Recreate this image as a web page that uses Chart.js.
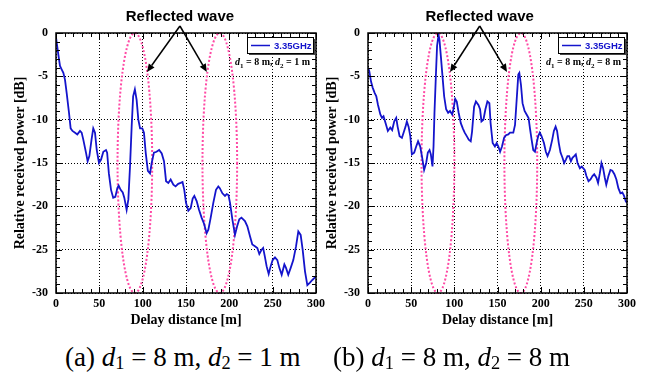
<!DOCTYPE html>
<html>
<head>
<meta charset="utf-8">
<script src="https://cdn.jsdelivr.net/npm/chart.js@4.4.0/dist/chart.umd.min.js"></script>
<style>
  body { margin: 0; background: #fff; width: 646px; height: 378px; position: relative; overflow: hidden; font-family: "Liberation Serif", serif; }
  canvas { position: absolute; top: 0; }
  #chartA { left: 0; }
  #chartB { left: 310px; }
  .cap { position: absolute; top: 342px; font-size: 27px; line-height: 30px; white-space: nowrap; color: #000; }
  .cap sub { font-size: 0.68em; vertical-align: -0.18em; line-height: 0; }
</style>
</head>
<body>
<canvas id="chartA" width="340" height="335"></canvas>
<canvas id="chartB" width="336" height="335"></canvas>
<div class="cap" style="left:65px">(a) <i>d</i><sub>1</sub> = 8 m, <i>d</i><sub>2</sub> = 1 m</div>
<div class="cap" style="left:333px">(b) <i>d</i><sub>1</sub> = 8 m, <i>d</i><sub>2</sub> = 8 m</div>
<script>
// tick labels
const xTickVals = [0, 50, 100, 150, 200, 250, 300];
const yTickVals = [0, -5, -10, -15, -20, -25, -30];
const seriesLabel = '3.35GHz';

// (a) d1 = 8 m, d2 = 1 m : delay distance [m] / relative power [dB]
const xA = [0,2.7,4.6,6.5,8.5,10.4,12.3,15,16.9,19,
  22,24.6,27.7,29.6,31.5,34.6,36.5,38.5,41,43,
  45,47,49.6,52,54.6,57.7,59,61,63.5,66,
  68.5,70.8,72.3,74.6,77,78.8,81.5,83.5,85.4,87.3,
  89,91,93,95,97,99.6,101.5,103.5,106,108.5,
  110.4,113,116,119,122,124.6,127,129.6,132.3,135.4,
  138,141,143.8,146,148,150,152.7,155.4,157.7,159.6,
  162.3,165,168,170.8,173.8,175.8,178.5,181.5,184.6,187.3,
  189,192,195,197,199,200.8,203.5,206.5,209,211.5,
  214,218,220.8,224,226.5,229.6,232.3,234.6,237.3,239,
  241,243,245.4,247.7,250,252.7,255.4,257.7,260.4,263.5,
  265.4,268,270.8,273.8,277,279.6,282.3,284.6,287.3,290,
  293,295.8,298.8,300];
const yA = [-0.5,-2.5,-3.8,-4.2,-4.6,-5.4,-6.9,-9.2,-11,-11.3,
  -11.5,-11.7,-11.3,-11.5,-12.3,-13.8,-14.8,-14.2,-12.3,-11,
  -11.5,-13.5,-15,-14.6,-13.7,-13.5,-13.8,-16.2,-18.1,-19,
  -18.9,-17.9,-17.6,-18.1,-18.4,-19,-20.4,-19.2,-15.4,-10.8,
  -7.3,-6.5,-7.7,-10,-11,-11,-11.5,-13.8,-15.9,-16.2,
  -15,-13.8,-13.7,-13.5,-13.9,-14.8,-17.1,-17.3,-16.9,-17.5,
  -17.7,-17.4,-17.3,-17.2,-18.1,-19.6,-20.5,-20.2,-19.1,-18.8,
  -19.4,-20.4,-21.3,-22,-23.1,-22.7,-21.3,-19.6,-18.1,-17.7,
  -17.9,-18.5,-18.8,-18.6,-18.7,-19.6,-21.5,-23.3,-22.3,-21.5,
  -21.3,-21.7,-22.3,-23.5,-24.4,-24.6,-24.8,-25.5,-25,-24.8,
  -25.8,-26.9,-27.8,-26.9,-26.2,-25.9,-26.2,-27.1,-27.9,-26.7,
  -27.1,-27.9,-27.1,-26.2,-24.6,-22.9,-23.3,-25,-27.5,-29.1,
  -28.8,-28.5,-28.2,-28.1];

// (b) d1 = 8 m, d2 = 8 m
const xB = [0,1.5,3.5,5.4,7.7,9.6,11.6,14.3,16.2,18,
  20.4,23,25.8,28,30.4,32.7,34.3,36.6,39.3,41.2,
  43.5,45,47,49,50.8,53.5,55.8,58,60.5,62.8,
  65,67.4,69.3,71.3,72.8,74.7,75.9,77,78.6,80,
  81.7,82.8,84.4,86.3,88.2,90.5,92.8,95,97.5,99,
  101,102.8,105,107.5,109.8,112,114.4,116.7,119,120.5,
  122.9,125,127.9,129.8,131.4,133.7,136,138.3,140.6,142,
  144.4,147,149,151,153,155.2,157.6,159.8,162.5,164.5,
  166.8,168.3,170.3,172.2,174.1,175.3,177.2,179,181.4,183.7,
  186,187.6,189.5,191.4,193.4,195.3,197.2,199,201,203.8,
  206,208,210.7,213.4,215.3,217.3,219,221,223,225.3,
  227.2,229.2,231,233,235,236.8,238.8,240.7,242.7,245.4,
  247.7,249.2,251,253,255.4,257.7,260,262,264.6,266.5,
  268.5,270.4,272.3,274.3,276,278.5,280.8,283,285.4,287.7,
  290,292.4,294.6,296.6,298.5,300];
const yB = [-4,-4.4,-5.6,-6.3,-6.9,-7.3,-8.3,-9.4,-9.8,-9.6,
  -10.4,-11.3,-10.9,-11.2,-10.2,-9.8,-10.8,-11.9,-12.1,-11.5,
  -10.8,-10.2,-10.8,-11.9,-14,-13.8,-13.1,-12.5,-13.1,-14.4,
  -15.8,-15,-13.8,-13.5,-14,-15.4,-13.1,-9.2,-5,-1.5,
  -0.2,-0.8,-2.7,-5,-7.3,-8.8,-9.2,-9,-9.4,-8.8,
  -7.6,-7.9,-9.2,-10.4,-11,-11.5,-11.9,-12.3,-12.5,-11.4,
  -8.5,-7.9,-8.3,-8.8,-10.2,-10,-8.8,-7.9,-8.1,-10.4,
  -12.7,-13.1,-12.7,-13.1,-13.7,-13.1,-12.1,-11.8,-11.7,-11.5,
  -11.5,-11.5,-10.6,-7.7,-4.8,-4.6,-6,-8.1,-9,-9.4,
  -9.8,-11,-12.3,-13.5,-13.7,-12.7,-11.9,-11.5,-11.9,-12.7,
  -13.7,-14.2,-13.5,-12.3,-11.3,-10.8,-11.3,-12.7,-13.8,-14.4,
  -15,-14.6,-14.2,-14.2,-14.8,-14.4,-14.2,-14,-15,-15.6,
  -15.4,-15.6,-15.8,-16.5,-17.1,-16.9,-16.5,-16.3,-16.7,-17.3,
  -16.2,-15,-15.6,-16.7,-17.5,-16.5,-15.8,-15.9,-16.3,-16.9,
  -17.9,-18.5,-18.4,-18.8,-19.4,-19.6];

// circled reflections: [centre, half width] in metres
const ringsA = [[91, 20], [189, 20]];
const ringsB = [[81, 19], [177, 19]];
// arrow tips [m, dB]
const tipsA = [[105, -4.5], [174, -4.5]];
const tipsB = [[95, -4.5], [161, -4.5]];

const tickFont = { family: 'Liberation Serif', weight: 'bold', size: 12 };
const titleFont = { family: 'Liberation Serif', weight: 'bold', size: 14 };

function drawNote(ctx, parts, right, base) {
    const fonts = {
        n: 'bold 10px "Liberation Serif"',
        i: 'italic bold 10px "Liberation Serif"',
        s: 'bold 7px "Liberation Serif"'
    };
    let w = 0;
    parts.forEach(p => { ctx.font = fonts[p[1]]; w += ctx.measureText(p[0]).width; });
    let x = right - w;
    ctx.textAlign = 'left';
    ctx.textBaseline = 'alphabetic';
    parts.forEach(p => {
        ctx.font = fonts[p[1]];
        ctx.fillText(p[0], x, p[1] === 's' ? base + 3 : base);
        x += ctx.measureText(p[0]).width;
    });
}

const decor = {
    id: 'decor',
    beforeDatasetsDraw(chart, args, o) {
        const { ctx, scales: { x, y } } = chart;
        ctx.save();
        ctx.strokeStyle = '#ff4aa5';
        ctx.lineWidth = 2;
        ctx.setLineDash([2, 2]);
        const top = y.getPixelForValue(0), bot = y.getPixelForValue(-30);
        o.rings.forEach(r => {
            const cx = x.getPixelForValue(r[0]);
            const rx = x.getPixelForValue(r[0] + r[1]) - cx;
            ctx.beginPath();
            ctx.ellipse(cx, (top + bot) / 2, rx, (bot - top) / 2, 0, 0, Math.PI * 2);
            ctx.stroke();
        });
        ctx.restore();
    },
    afterDraw(chart, args, o) {
        const { ctx, chartArea: a, scales: { x, y } } = chart;
        ctx.save();
        // inward ticks on all four sides
        ctx.strokeStyle = '#000';
        ctx.lineWidth = 1;
        ctx.beginPath();
        for (let v = 0; v <= 300; v += 10) {
            const px = Math.round(x.getPixelForValue(v)) + 0.5;
            const len = v % 50 === 0 ? 6 : 4;
            ctx.moveTo(px, a.bottom); ctx.lineTo(px, a.bottom - len);
            ctx.moveTo(px, a.top); ctx.lineTo(px, a.top + len);
        }
        for (let v = -30; v <= 0; v += 1) {
            const py = Math.round(y.getPixelForValue(v)) + 0.5;
            const len = v % 5 === 0 ? 6 : 4;
            ctx.moveTo(a.left, py); ctx.lineTo(a.left + len, py);
            ctx.moveTo(a.right, py); ctx.lineTo(a.right - len, py);
        }
        ctx.stroke();
        ctx.lineWidth = 1.5;
        ctx.strokeRect(a.left, a.top, a.right - a.left, a.bottom - a.top);

        // legend box
        const bw = 66, bh = 16;
        const bx = a.right - 3 - bw, by = a.top + 4;
        ctx.fillStyle = '#444';
        ctx.fillRect(bx + 2, by + 2, bw, bh);
        ctx.fillStyle = '#fff';
        ctx.fillRect(bx, by, bw, bh);
        ctx.lineWidth = 1;
        ctx.strokeStyle = '#000';
        ctx.strokeRect(bx + 0.5, by + 0.5, bw, bh);
        const ds = chart.data.datasets[0];
        ctx.strokeStyle = ds.borderColor;
        ctx.lineWidth = 1.5;
        ctx.beginPath();
        ctx.moveTo(bx + 4, by + 8.5); ctx.lineTo(bx + 23, by + 8.5);
        ctx.stroke();
        ctx.fillStyle = ds.borderColor;
        ctx.font = 'bold 9.5px "Liberation Sans"';
        ctx.textAlign = 'left';
        ctx.textBaseline = 'middle';
        ctx.fillText(ds.label, bx + 27, by + 9);

        // distances note
        ctx.fillStyle = '#000';
        drawNote(ctx, o.note, a.right - 6, a.top + 32);

        // arrows
        const ax = x.getPixelForValue(o.apex), ay = a.top - 7;
        ctx.strokeStyle = '#000';
        ctx.fillStyle = '#000';
        ctx.lineWidth = 1.5;
        o.tips.forEach(t => {
            const tx = x.getPixelForValue(t[0]), ty = y.getPixelForValue(t[1]);
            const ang = Math.atan2(ty - ay, tx - ax);
            const hl = 8, hw = 3.5;
            const bxp = tx - hl * Math.cos(ang), byp = ty - hl * Math.sin(ang);
            ctx.beginPath();
            ctx.moveTo(ax, ay); ctx.lineTo(bxp, byp);
            ctx.stroke();
            ctx.beginPath();
            ctx.moveTo(tx, ty);
            ctx.lineTo(bxp + hw * Math.sin(ang), byp - hw * Math.cos(ang));
            ctx.lineTo(bxp - hw * Math.sin(ang), byp + hw * Math.cos(ang));
            ctx.closePath();
            ctx.fill();
        });
        ctx.font = 'bold 15px "Liberation Sans"';
        ctx.textAlign = 'center';
        ctx.textBaseline = 'middle';
        ctx.fillText('Reflected wave', ax, 17);
        ctx.restore();
    }
};

function makeChart(id, xs, ys, deco) {
    const pts = xs.map((v, i) => ({ x: v, y: ys[i] }));
    return new Chart(document.getElementById(id), {
        type: 'line',
        data: {
            datasets: [{
                label: seriesLabel,
                data: pts,
                borderColor: '#1414cc',
                borderWidth: 1.8,
                pointRadius: 0,
                tension: 0,
                fill: false
            }]
        },
        options: {
            responsive: false,
            animation: false,
            layout: { padding: { top: 33, right: deco.padRight, left: 0, bottom: 0 } },
            plugins: { legend: { display: false }, tooltip: { enabled: false }, decor: deco },
            scales: {
                x: {
                    type: 'linear', min: 0, max: 300,
                    afterBuildTicks: s => { s.ticks = xTickVals.map(v => ({ value: v })); },
                    afterFit: s => { s.height = 42; },
                    ticks: { font: tickFont, color: '#000', padding: 4, maxRotation: 0 },
                    grid: { color: '#000', lineWidth: 1, drawTicks: false },
                    border: { display: false, dash: [1, 2] },
                    title: { display: true, text: 'Delay distance [m]', font: titleFont, color: '#000', padding: { top: 0, bottom: 6 } }
                },
                y: {
                    type: 'linear', min: -30, max: 0,
                    afterBuildTicks: s => { s.ticks = yTickVals.map(v => ({ value: v })); },
                    afterFit: s => { s.width = deco.yWidth; },
                    ticks: { font: tickFont, color: '#000', padding: 8 },
                    grid: { color: '#000', lineWidth: 1, drawTicks: false },
                    border: { display: false, dash: [1, 2] },
                    title: { display: true, text: 'Relative received power [dB]', font: titleFont, color: '#000', padding: { top: deco.titlePad, bottom: 0 } }
                }
            }
        },
        plugins: [decor]
    });
}

makeChart('chartA', xA, yA, {
    rings: ringsA, tips: tipsA, apex: 143, padRight: 24, yWidth: 56, titlePad: 12,
    note: [['d', 'i'], ['1', 's'], [' = 8 m, ', 'n'], ['d', 'i'], ['2', 's'], [' = 1 m', 'n']]
});
makeChart('chartB', xB, yB, {
    rings: ringsB, tips: tipsB, apex: 129.4, padRight: 19, yWidth: 58, titlePad: 14,
    note: [['d', 'i'], ['1', 's'], [' = 8 m, ', 'n'], ['d', 'i'], ['2', 's'], [' = 8 m', 'n']]
});
</script>
</body>
</html>
